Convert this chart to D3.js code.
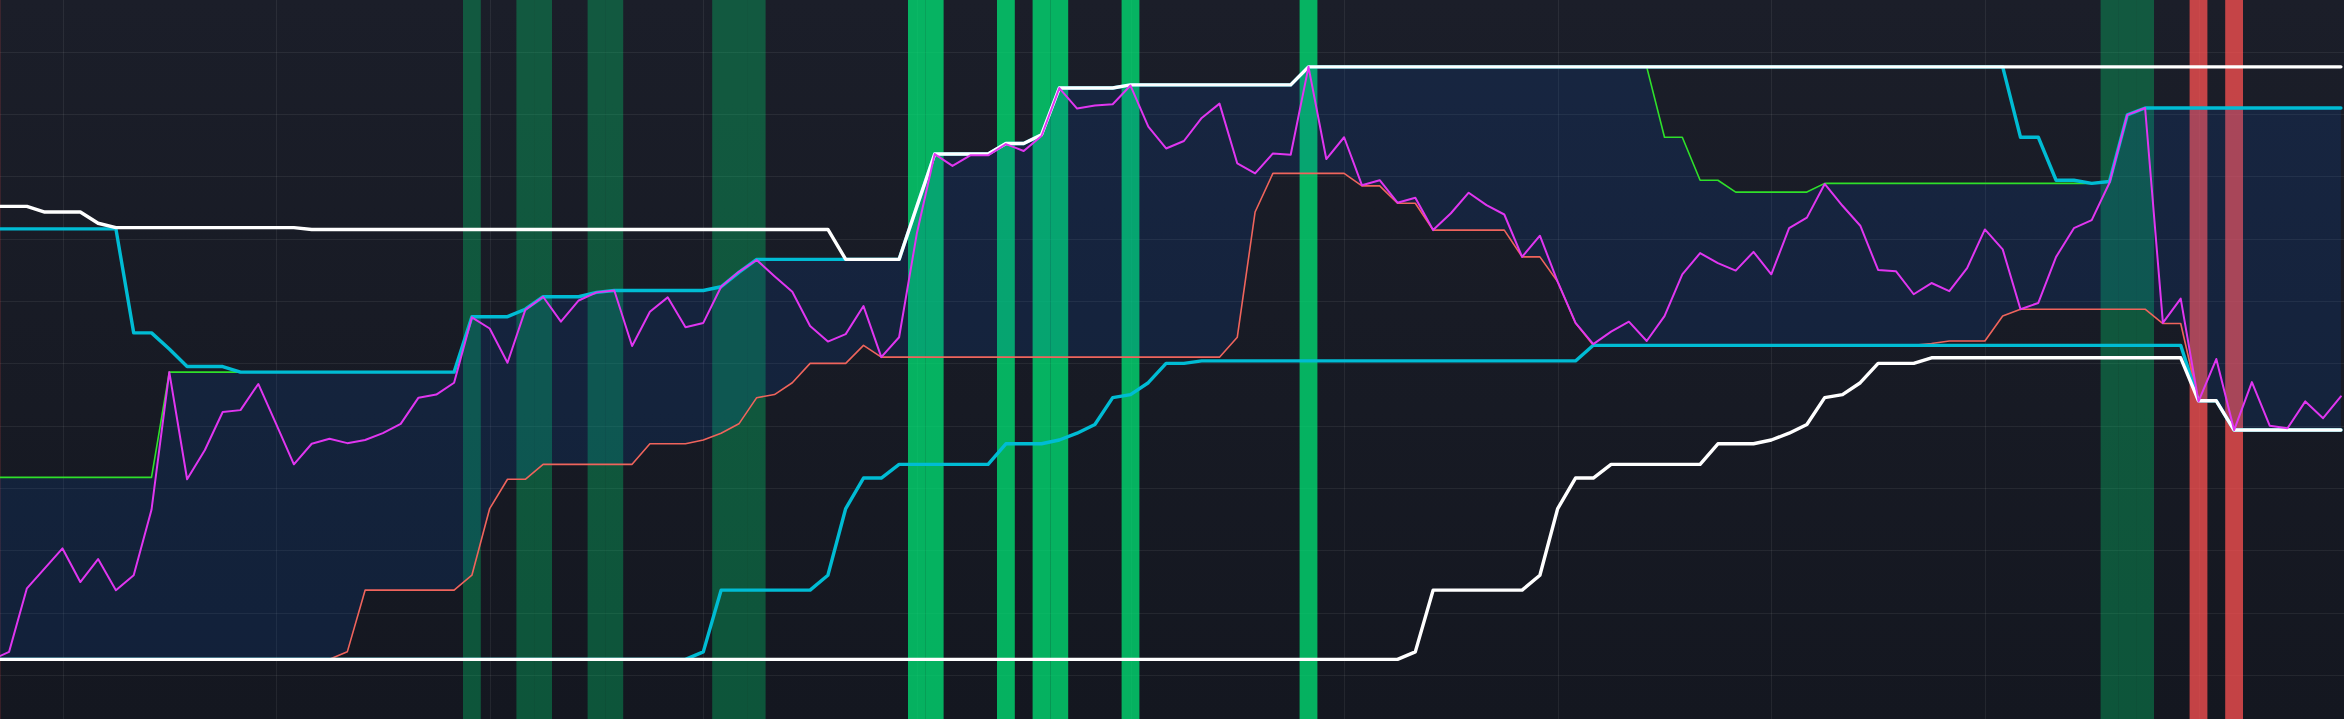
<!DOCTYPE html>
<html><head><meta charset="utf-8">
<script src="https://cdn.jsdelivr.net/npm/d3@7"></script>
<style>html,body{margin:0;padding:0;background:#171a24;overflow:hidden}svg{display:block}</style>
</head><body>
<svg id="chart" width="2344" height="719"></svg>
<script>
// ---------- data ----------
const oscillator = [
 2.4,3.7,13.9,17.1,20.3,14.9,18.6,13.6,16.0,26.5,
 48.6,31.4,36.1,42.2,42.5,46.7,40.3,33.8,37.1,37.9,
 37.2,37.7,38.8,40.3,44.5,45.0,46.9,57.4,55.6,50.1,
 58.6,60.7,56.7,60.1,61.4,61.7,52.8,58.3,60.6,55.8,
 56.5,62.3,64.7,66.6,64.0,61.5,56.0,53.5,54.7,59.2,
 51.0,54.2,70.9,83.6,81.7,83.4,83.4,85.2,84.1,86.5,
 94.2,90.9,91.4,91.6,94.6,88.0,84.5,85.7,89.4,91.7,
 82.1,80.5,83.7,83.5,97.6,82.8,86.3,78.6,79.4,75.8,
 76.6,71.4,74.1,77.4,75.4,73.9,67.1,70.5,63.1,56.5,
 53.1,55.1,56.7,53.6,57.6,64.3,67.7,66.1,64.9,67.9,
 64.3,71.7,73.4,78.8,75.3,72.1,65.0,64.8,61.1,62.9,
 61.6,65.3,71.5,68.3,58.7,59.7,67.1,71.7,73.0,79.0,
 89.9,91.0,56.5,60.4,43.9,50.7,39.3,47.0,40.0,39.6,
 43.9,41.2,44.7
];
const longUpper = [
 75.2,75.2,75.2,74.3,74.3,74.3,72.5,71.8,71.8,71.8,
 71.8,71.8,71.8,71.8,71.8,71.8,71.8,71.8,71.5,71.5,
 71.5,71.5,71.5,71.5,71.5,71.5,71.5,71.5,71.5,71.5,
 71.5,71.5,71.5,71.5,71.5,71.5,71.5,71.5,71.5,71.5,
 71.5,71.5,71.5,71.5,71.5,71.5,71.5,71.5,66.7,66.7,
 66.7,66.7,75.2,83.6,83.6,83.6,83.6,85.3,85.3,86.7,
 94.2,94.2,94.2,94.2,94.7,94.7,94.7,94.7,94.7,94.7,
 94.7,94.7,94.7,94.7,97.6,97.6,97.6,97.6,97.6,97.6,
 97.6,97.6,97.6,97.6,97.6,97.6,97.6,97.6,97.6,97.6,
 97.6,97.6,97.6,97.6,97.6,97.6,97.6,97.6,97.6,97.6,
 97.6,97.6,97.6,97.6,97.6,97.6,97.6,97.6,97.6,97.6,
 97.6,97.6,97.6,97.6,97.6,97.6,97.6,97.6,97.6,97.6,
 97.6,97.6,97.6,97.6,97.6,97.6,97.6,97.6,97.6,97.6,
 97.6,97.6,97.6
];
const longLower = [
 2.5,2.5,2.5,2.5,2.5,2.5,2.5,2.5,2.5,2.5,
 2.5,2.5,2.5,2.5,2.5,2.5,2.5,2.5,2.5,2.5,
 2.5,2.5,2.5,2.5,2.5,2.5,2.5,2.5,2.5,2.5,
 2.5,2.5,2.5,2.5,2.5,2.5,2.5,2.5,2.5,2.5,
 2.5,2.5,2.5,2.5,2.5,2.5,2.5,2.5,2.5,2.5,
 2.5,2.5,2.5,2.5,2.5,2.5,2.5,2.5,2.5,2.5,
 2.5,2.5,2.5,2.5,2.5,2.5,2.5,2.5,2.5,2.5,
 2.5,2.5,2.5,2.5,2.5,2.5,2.5,2.5,2.5,2.5,
 3.7,13.6,13.6,13.6,13.6,13.6,13.6,16.0,26.7,31.6,
 31.6,33.8,33.8,33.8,33.8,33.8,33.8,37.1,37.1,37.1,
 37.7,38.8,40.2,44.5,45.0,46.9,50.0,50.0,50.0,50.9,
 50.9,50.9,50.9,50.9,50.9,50.9,50.9,50.9,50.9,50.9,
 50.9,50.9,50.9,50.9,44.0,44.0,39.3,39.3,39.3,39.3,
 39.3,39.3,39.3
];
const midUpper = [
 71.6,71.6,71.6,71.6,71.6,71.6,71.6,71.6,54.9,54.9,
 52.3,49.5,49.5,49.5,48.6,48.6,48.6,48.6,48.6,48.6,
 48.6,48.6,48.6,48.6,48.6,48.6,48.6,57.5,57.5,57.5,
 58.7,60.7,60.7,60.7,61.4,61.7,61.7,61.7,61.7,61.7,
 61.7,62.3,64.6,66.7,66.7,66.7,66.7,66.7,66.7,66.7,
 66.7,66.7,75.2,83.6,83.6,83.6,83.6,85.3,85.3,86.7,
 94.2,94.2,94.2,94.2,94.7,94.7,94.7,94.7,94.7,94.7,
 94.7,94.7,94.7,94.7,97.6,97.6,97.6,97.6,97.6,97.6,
 97.6,97.6,97.6,97.6,97.6,97.6,97.6,97.6,97.6,97.6,
 97.6,97.6,97.6,97.6,97.6,97.6,97.6,97.6,97.6,97.6,
 97.6,97.6,97.6,97.6,97.6,97.6,97.6,97.6,97.6,97.6,
 97.6,97.6,97.6,97.6,86.3,86.3,79.4,79.4,78.9,79.2,
 89.9,91.0,91.0,91.0,91.0,91.0,91.0,91.0,91.0,91.0,
 91.0,91.0,91.0
];
const midLower = [
 2.5,2.5,2.5,2.5,2.5,2.5,2.5,2.5,2.5,2.5,
 2.5,2.5,2.5,2.5,2.5,2.5,2.5,2.5,2.5,2.5,
 2.5,2.5,2.5,2.5,2.5,2.5,2.5,2.5,2.5,2.5,
 2.5,2.5,2.5,2.5,2.5,2.5,2.5,2.5,2.5,2.5,
 3.7,13.6,13.6,13.6,13.6,13.6,13.6,16.0,26.7,31.6,
 31.6,33.8,33.8,33.8,33.8,33.8,33.8,37.1,37.1,37.1,
 37.7,38.8,40.2,44.5,45.0,46.9,50.0,50.0,50.4,50.4,
 50.4,50.4,50.4,50.4,50.4,50.4,50.4,50.4,50.4,50.4,
 50.4,50.4,50.4,50.4,50.4,50.4,50.4,50.4,50.4,50.4,
 52.9,52.9,52.9,52.9,52.9,52.9,52.9,52.9,52.9,52.9,
 52.9,52.9,52.9,52.9,52.9,52.9,52.9,52.9,52.9,52.9,
 52.9,52.9,52.9,52.9,52.9,52.9,52.9,52.9,52.9,52.9,
 52.9,52.9,52.9,52.9,44.0,44.0,39.3,39.3,39.3,39.3,
 39.3,39.3,39.3
];
const shortUpper = [
 31.7,31.7,31.7,31.7,31.7,31.7,31.7,31.7,31.7,31.7,
 48.6,48.6,48.6,48.6,48.6,48.6,48.6,48.6,48.6,48.6,
 48.6,48.6,48.6,48.6,48.6,48.6,48.6,57.5,57.5,57.5,
 58.7,60.7,60.7,60.7,61.4,61.7,61.7,61.7,61.7,61.7,
 61.7,62.3,64.6,66.7,66.7,66.7,66.7,66.7,66.7,66.7,
 66.7,66.7,75.2,83.6,83.6,83.6,83.6,85.3,85.3,86.7,
 94.2,94.2,94.2,94.2,94.7,94.7,94.7,94.7,94.7,94.7,
 94.7,94.7,94.7,94.7,97.6,97.6,97.6,97.6,97.6,97.6,
 97.6,97.6,97.6,97.6,97.6,97.6,97.6,97.6,97.6,97.6,
 97.6,97.6,97.6,97.6,86.3,86.3,79.4,79.4,77.5,77.5,
 77.5,77.5,77.5,78.9,78.9,78.9,78.9,78.9,78.9,78.9,
 78.9,78.9,78.9,78.9,78.9,78.9,78.9,78.9,78.9,79.2,
 89.9,91.0,91.0,91.0,91.0,91.0,91.0,91.0,91.0,91.0,
 91.0,91.0,91.0
];
const shortLower = [
 2.5,2.5,2.5,2.5,2.5,2.5,2.5,2.5,2.5,2.5,
 2.5,2.5,2.5,2.5,2.5,2.5,2.5,2.5,2.5,2.5,
 3.7,13.6,13.6,13.6,13.6,13.6,13.6,16.0,26.7,31.4,
 31.4,33.8,33.8,33.8,33.8,33.8,33.8,37.1,37.1,37.1,
 37.7,38.8,40.3,44.5,45.0,46.9,50.0,50.0,50.0,52.9,
 51.0,51.0,51.0,51.0,51.0,51.0,51.0,51.0,51.0,51.0,
 51.0,51.0,51.0,51.0,51.0,51.0,51.0,51.0,51.0,51.0,
 54.2,74.3,80.5,80.5,80.5,80.5,80.5,78.5,78.5,75.7,
 75.7,71.4,71.4,71.4,71.4,71.4,67.1,67.1,63.1,56.5,
 52.9,52.9,52.9,52.9,52.9,52.9,52.9,52.9,52.9,52.9,
 52.9,52.9,52.9,52.9,52.9,52.9,52.9,52.9,52.9,53.2,
 53.6,53.6,53.6,57.6,58.7,58.7,58.7,58.7,58.7,58.7,
 58.7,58.7,56.4,56.4,44.0,44.0,39.3,39.3,39.3,39.3,
 39.3,39.3,39.3
];
// background highlight bars (bar indices)
const softBullBars = [27,30,31,34,35,41,42,43,119,120,121];
const strongBullBars = [52,53,57,59,60,64,74];
const bearBars = [0,124,126];
// grid
const yTicks = [0,10,20,30,40,50,60,70,80,90,100];
const xGridBars = [4,16,28,40,52,64,76,88,100,112,124];

// ---------- drawing ----------
const W = 2344, H = 719;
const idx = oscillator.map((d,i)=>i);
const x = d3.scaleLinear().domain([0, idx.length-1]).range([-8.7, 2340.9]);
const y = d3.scaleLinear().domain([0,100]).range([674.9, 51.9]);
const bw = x(1)-x(0);

const svg = d3.select('#chart');
const defs = svg.append('defs');
const grad = defs.append('linearGradient').attr('id','bg').attr('x1',0).attr('y1',0).attr('x2',0).attr('y2',1);
grad.append('stop').attr('offset','0%').attr('stop-color','#1b1e29');
grad.append('stop').attr('offset','100%').attr('stop-color','#141720');
svg.append('rect').attr('width',W).attr('height',H).attr('fill','url(#bg)');

const grid = svg.append('g').attr('stroke','rgba(255,255,255,0.065)').attr('stroke-width',1);
grid.selectAll('line.h').data(yTicks).join('line').attr('class','h')
  .attr('x1',0).attr('x2',W).attr('y1',d=>Math.round(y(d))+0.5).attr('y2',d=>Math.round(y(d))+0.5);
grid.selectAll('line.v').data(xGridBars).join('line').attr('class','v')
  .attr('y1',0).attr('y2',H).attr('x1',d=>Math.round(x(d))+0.5).attr('x2',d=>Math.round(x(d))+0.5);

function bands(list, color){
  svg.append('g').selectAll('rect').data(list).join('rect')
    .attr('x',d=>x(d)-bw/2).attr('width',bw).attr('y',0).attr('height',H).attr('fill',color);
}
bands(softBullBars,'rgba(0,230,118,0.30)');
bands(strongBullBars,'rgba(0,230,118,0.75)');
bands(bearBars,'rgba(255,82,82,0.75)');

svg.append('path').datum(idx)
  .attr('d', d3.area().x(i=>x(i)).y0(i=>y(shortLower[i])).y1(i=>y(shortUpper[i])))
  .attr('fill','rgba(10,90,200,0.15)');

function line(arr,color,w){
  svg.append('path').datum(idx)
    .attr('d', d3.line().x(i=>x(i)).y(i=>y(arr[i])))
    .attr('fill','none').attr('stroke',color).attr('stroke-width',w)
    .attr('stroke-linejoin','round').attr('stroke-linecap','round');
}
line(shortUpper,'#2fe02a',1.6);
line(shortLower,'#f0645c',1.6);
line(midUpper,'#00bcd4',3.4);
line(midLower,'#00bcd4',3.4);
line(longUpper,'#ffffff',3.4);
line(longLower,'#ffffff',3.4);
line(oscillator,'#e036f0',2);
</script>
</body></html>
